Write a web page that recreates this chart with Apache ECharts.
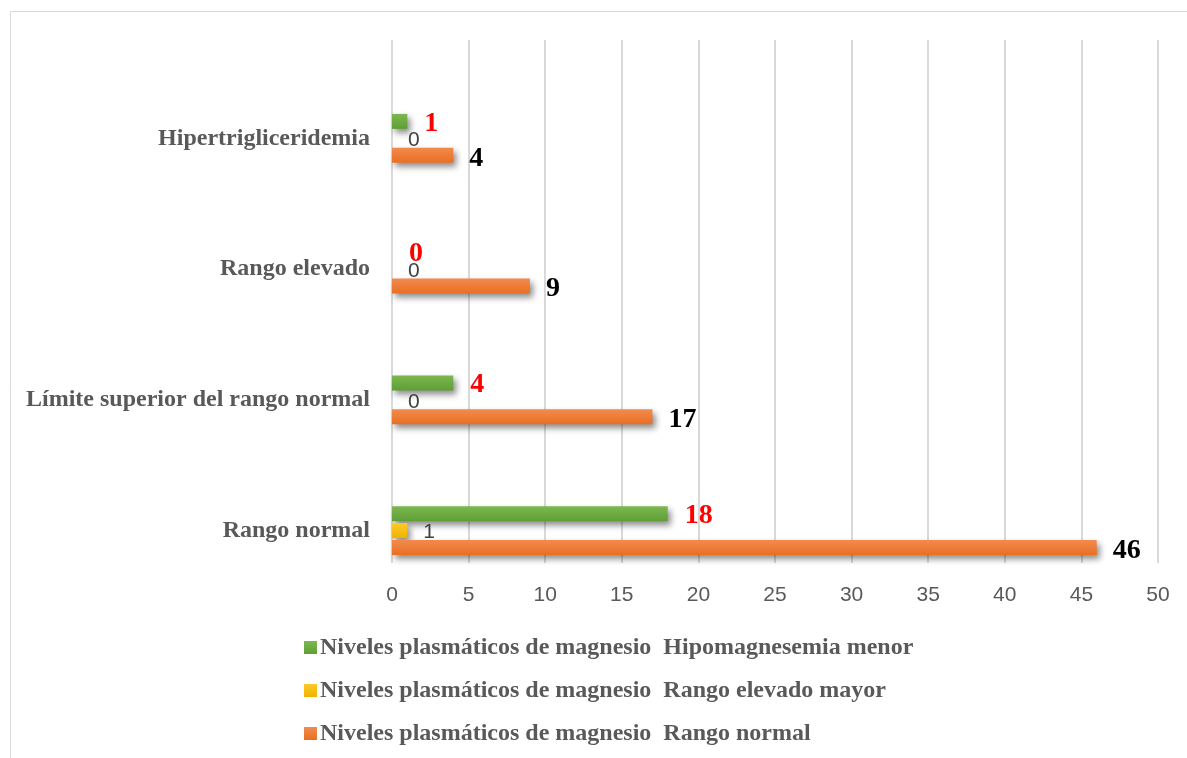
<!DOCTYPE html>
<html>
<head>
<meta charset="utf-8">
<title>Niveles plasmáticos de magnesio</title>
<script src="https://cdn.jsdelivr.net/npm/echarts@6/dist/echarts.min.js"></script>
<style>
  html, body { margin: 0; padding: 0; background: #ffffff; }
  #chart { width: 1187px; height: 758px; }
</style>
</head>
<body>
<div id="chart"></div>
<script>
// Categories, bottom to top
const categories = ['Rango normal', 'Límite superior del rango normal', 'Rango elevado', 'Hipertrigliceridemia'];

// Series names
const seriesNames = [
  'Niveles plasmáticos de magnesio  Hipomagnesemia menor',
  'Niveles plasmáticos de magnesio  Rango elevado mayor',
  'Niveles plasmáticos de magnesio  Rango normal'
];

// Counts per category (same order as categories)
const hipomagnesemiaMenor = [18, 4, 0, 1];
const rangoElevadoMayor = [1, 0, 0, 0];
const rangoNormal = [46, 17, 9, 4];

// Value axis
const xMin = 0;
const xMax = 50;
const xInterval = 5;

const chart = echarts.init(document.getElementById('chart'), null, { renderer: 'canvas' });

function grad(top, bottom) {
  return new echarts.graphic.LinearGradient(0, 0, 0, 1, [
    { offset: 0, color: top },
    { offset: 1, color: bottom }
  ]);
}

const shadow = {
  shadowColor: 'rgba(0,0,0,0.45)',
  shadowBlur: 6,
  shadowOffsetX: 3,
  shadowOffsetY: 4
};

const serif = '"Liberation Serif", "Times New Roman", serif';
const sans = '"Liberation Sans", Arial, sans-serif';

const option = {
  backgroundColor: '#ffffff',
  animation: false,
  graphic: [{
    type: 'rect',
    shape: { x: 10.5, y: 11.5, width: 1300, height: 900 },
    style: { fill: 'none', stroke: '#d9d9d9', lineWidth: 1 },
    silent: true
  }],
  legend: {
    orient: 'vertical',
    left: 299,
    top: 629,
    itemWidth: 13,
    itemHeight: 13,
    itemGap: 16,
    icon: 'rect',
    textStyle: {
      fontFamily: serif,
      fontWeight: 'bold',
      fontSize: 24,
      lineHeight: 27,
      color: '#595959',
      padding: [0, 0, 0, -2]
    },
    data: seriesNames
  },
  grid: [
    { left: 392, right: 29, top: 40, height: 523 },
    { left: 392, right: 29, top: 73, height: 523 }
  ],
  xAxis: [
    {
      gridIndex: 0,
      type: 'value',
      min: xMin, max: xMax, interval: xInterval,
      axisLine: { show: false },
      axisTick: { show: false },
      splitLine: { show: true, lineStyle: { color: '#d9d9d9', width: 2 } },
      axisLabel: { fontFamily: sans, fontSize: 21, color: '#595959', margin: 22 }
    },
    {
      gridIndex: 1,
      type: 'value',
      min: xMin, max: xMax, interval: xInterval,
      show: false
    }
  ],
  yAxis: [
    { gridIndex: 0, type: 'value', min: 0, max: 1, show: false },
    {
      gridIndex: 1,
      type: 'category',
      data: categories,
      axisLine: { show: false },
      axisTick: { show: false },
      splitLine: { show: false },
      axisLabel: {
        fontFamily: serif, fontWeight: 'bold', fontSize: 24,
        color: '#595959', margin: 22
      }
    }
  ],
  series: [
    {
      name: seriesNames[0],
      type: 'bar',
      xAxisIndex: 1, yAxisIndex: 1,
      data: hipomagnesemiaMenor,
      barWidth: 15,
      barGap: '13%',
      itemStyle: Object.assign({ color: grad('#7cb84f', '#5f9e36') }, shadow),
      label: {
        show: true, position: 'right', distance: 17,
        fontFamily: serif, fontWeight: 'bold', fontSize: 28, color: '#ff0000',
        offset: [0, 2]
      }
    },
    {
      name: seriesNames[1],
      type: 'bar',
      xAxisIndex: 1, yAxisIndex: 1,
      data: rangoElevadoMayor,
      barWidth: 15,
      barGap: '13%',
      itemStyle: Object.assign({ color: grad('#ffc928', '#efb300') }, shadow),
      label: {
        show: true, position: 'right', distance: 16,
        fontFamily: sans, fontSize: 21, color: '#404040',
        offset: [0, 2]
      }
    },
    {
      name: seriesNames[2],
      type: 'bar',
      xAxisIndex: 1, yAxisIndex: 1,
      data: rangoNormal,
      barWidth: 15,
      barGap: '13%',
      itemStyle: Object.assign({ color: grad('#f28a4e', '#e96f22') }, shadow),
      label: {
        show: true, position: 'right', distance: 16,
        fontFamily: serif, fontWeight: 'bold', fontSize: 28, color: '#000000',
        offset: [0, 3]
      }
    }
  ]
};

chart.setOption(option);
</script>
</body>
</html>
